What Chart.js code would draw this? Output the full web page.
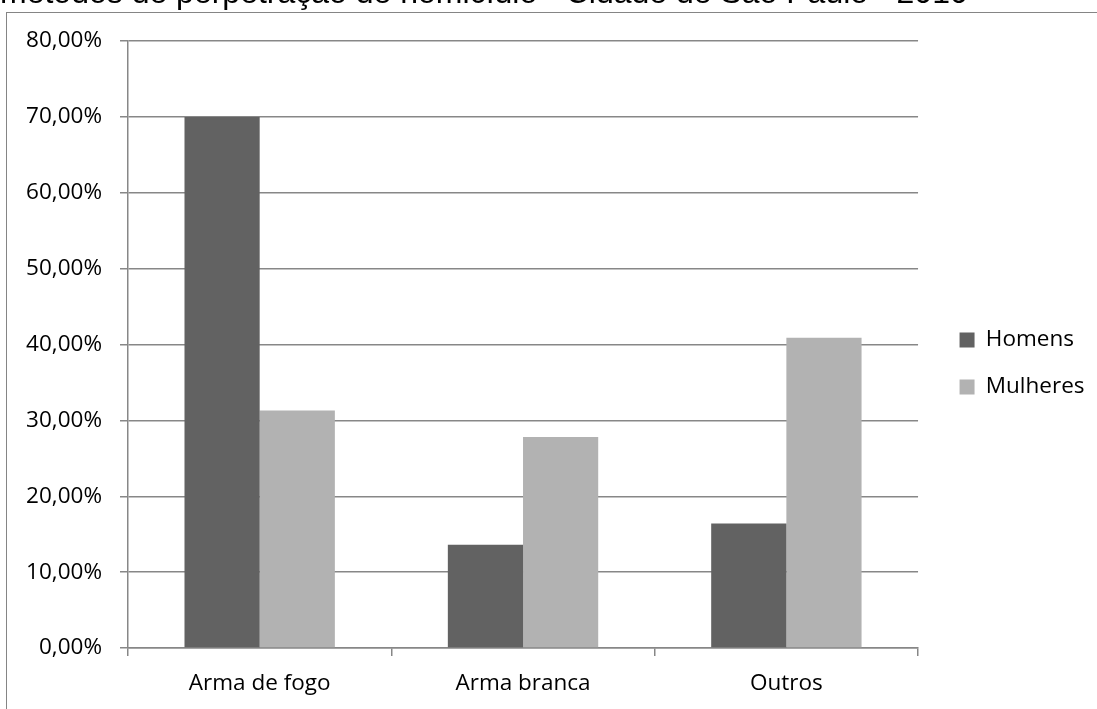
<!DOCTYPE html>
<html lang="pt-BR">
<head>
<meta charset="utf-8">
<title>Métodos de perpetração de homicídio</title>
<script src="https://cdn.jsdelivr.net/npm/chart.js@4.4.1/dist/chart.umd.min.js"></script>
<style>
  html, body { margin: 0; padding: 0; background: #ffffff; overflow: hidden; }
  body { width: 1097px; height: 709px; position: relative; }
  #frame {
    position: absolute; left: 6px; top: 12px; width: 1200px; height: 800px;
    border: 1px solid #858585; box-sizing: border-box;
  }
  #wrap { position: absolute; left: 0; top: -25px; width: 1097px; height: 734px; }
</style>
</head>
<body>
<div id="frame"></div>
<div id="wrap"><canvas id="chart"></canvas></div>
<script>
// Categorias e séries (percentual das vítimas por método)
const categories = ['Arma de fogo', 'Arma branca', 'Outros'];
const homens = [70.0, 13.6, 16.4];
const mulheres = [31.3, 27.8, 40.9];
const seriesNames = ['Homens', 'Mulheres'];
const yTickLabels = ['0,00%', '10,00%', '20,00%', '30,00%', '40,00%', '50,00%', '60,00%', '70,00%', '80,00%'];
const titleText = 'métodos de perpetração de homicídio - Cidade de São Paulo - 2010';

const gridColor = '#878787';
const labelFont = { family: '"Open Sans", Calibri, Carlito, sans-serif', size: 22.5 };

new Chart(document.getElementById('chart'), {
  type: 'bar',
  data: {
    labels: categories,
    datasets: [
      { label: seriesNames[0], data: homens, backgroundColor: '#626262', borderWidth: 0 },
      { label: seriesNames[1], data: mulheres, backgroundColor: '#b2b2b2', borderWidth: 0 }
    ]
  },
  options: {
    responsive: true,
    maintainAspectRatio: false,
    animation: false,
    datasets: { bar: { categoryPercentage: 0.571, barPercentage: 1.0 } },
    layout: { padding: { left: 0, right: 2.5, top: 0, bottom: 0 } },
    plugins: {
      title: {
        display: true,
        text: titleText,
        align: 'start',
        color: '#000000',
        font: { family: '"Liberation Sans", Arial, sans-serif', size: 32, weight: 'normal', lineHeight: 1.2 },
        padding: { top: 0, bottom: 27.6 }
      },
      legend: {
        display: true,
        position: 'right',
        align: 'center',
        title: { display: true, text: '', font: { size: 10, lineHeight: 1 }, padding: { top: 33, bottom: 0 } },
        labels: {
          boxWidth: 15,
          boxHeight: 15,
          padding: 24.5,
          color: '#000000',
          font: labelFont
        }
      },
      tooltip: { enabled: false }
    },
    scales: {
      x: {
        grid: { display: true, drawOnChartArea: false, drawTicks: true, tickLength: 8, color: gridColor, lineWidth: 1.5, offset: true },
        border: { display: true, color: gridColor, width: 1.5 },
        ticks: { color: '#000000', font: labelFont, padding: 14, maxRotation: 0 },
        afterFit(scale) { scale.height = 61; }
      },
      y: {
        min: 0,
        max: 80,
        grid: { color: gridColor, lineWidth: 1.5, tickLength: 8, drawTicks: true },
        border: { display: true, color: gridColor, width: 1.5 },
        ticks: {
          stepSize: 10,
          color: '#000000',
          font: labelFont,
          padding: 18,
          callback: (value, index) => yTickLabels[index]
        },
        afterFit(scale) { scale.width = 128; }
      },
      gap: {
        type: 'linear',
        position: 'right',
        display: true,
        grid: { display: false },
        border: { display: false },
        ticks: { display: false },
        afterFit(scale) { scale.width = 17; }
      }
    }
  }
});
</script>
</body>
</html>
